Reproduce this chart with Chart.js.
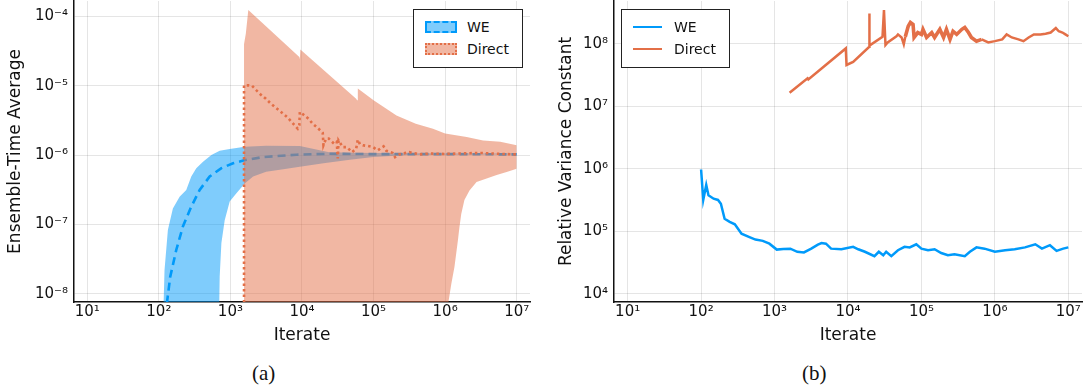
<!DOCTYPE html>
<html>
<head>
<meta charset="utf-8">
<script src="https://cdn.jsdelivr.net/npm/chart.js"></script>
<style>
  body { margin: 0; background: #fff; }
  #page { position: relative; width: 1083px; height: 392px; overflow: hidden; font-family: "DejaVu Sans", sans-serif; color: #111; }
  .panel { position: absolute; top: 0; }
  .legend { position: absolute; box-sizing: border-box; border: 1.5px solid #222; background: #fff; }
  .legend .lab { position: absolute; font-size: 14px; line-height: 16px; }
  .legend .sw { position: absolute; box-sizing: border-box; }
  .legend .ln { position: absolute; height: 0; border-top: 2.3px solid; }
  .cap { position: absolute; font-family: "Liberation Serif", serif; font-size: 21px; top: 361px; }
</style>
</head>
<body>
<div id="page">
  <div class="panel" style="left:0;width:540px;height:350px"><canvas id="chartA" width="540" height="350"></canvas></div>
  <div class="panel" style="left:540px;width:543px;height:350px"><canvas id="chartB" width="543" height="350"></canvas></div>

  <div class="legend" style="left:413px;top:9px;width:110px;height:59px">
    <div class="sw" style="left:11px;top:11px;width:32px;height:12px;background:rgba(0,154,250,0.5);border:2.5px dashed #009AFA"></div>
    <div class="lab" style="left:53px;top:9px">WE</div>
    <div class="sw" style="left:11px;top:33px;width:32px;height:12px;background:rgba(227,111,71,0.5);border:2.5px dotted #E36F47"></div>
    <div class="lab" style="left:53px;top:31px">Direct</div>
  </div>
  <div class="legend" style="left:621px;top:9px;width:109px;height:59px">
    <div class="ln" style="left:11px;top:16px;width:29px;border-color:#009AFA"></div>
    <div class="lab" style="left:52px;top:9px">WE</div>
    <div class="ln" style="left:11px;top:38px;width:29px;border-color:#E36F47"></div>
    <div class="lab" style="left:52px;top:31px">Direct</div>
  </div>

  <div class="cap" style="left:252px">(a)</div>
  <div class="cap" style="left:802px">(b)</div>
</div>

<script>
// ---- (a) ensemble-time average ----
var weMeanX = [129.4, 144.2, 175, 216.8, 283.8, 371.5, 512.9, 748, 1089, 1549, 2818, 8318, 2.4e4, 1e5, 1e6, 1e7];
var weMeanY = [7.24e-9, 1.76e-8, 4.27e-8, 9.33e-8, 1.80e-7, 3.13e-7, 4.90e-7, 6.46e-7, 7.59e-7, 8.38e-7, 9.33e-7, 1.01e-6, 1.04e-6, 1.03e-6, 1.03e-6, 1.02e-6];

var weUpperX = [113.8, 120, 133.7, 157, 195, 241.5, 283.8, 333.4, 414, 542, 708, 977, 1585, 3162, 9333, 2.4e4, 1e5, 1e6, 1e7];
var weUpperY = [3e-9, 2.19e-8, 8.32e-8, 1.70e-7, 2.51e-7, 3.13e-7, 4.90e-7, 6.46e-7, 8.02e-7, 1.0e-6, 1.15e-6, 1.22e-6, 1.32e-6, 1.36e-6, 1.35e-6, 1.10e-6, 1.07e-6, 1.05e-6, 1.05e-6];

var weLowerX = [113.8, 676, 708, 748, 832, 977, 1213, 1585, 2075, 3162, 5495, 9333, 2.0e4, 4.68e4, 1e5, 3.16e5, 1e6, 1e7];
var weLowerY = [1e-10, 1e-9, 1.76e-8, 5.37e-8, 1.15e-7, 2.14e-7, 2.82e-7, 3.89e-7, 4.90e-7, 5.75e-7, 6.21e-7, 6.76e-7, 7.59e-7, 8.51e-7, 9.33e-7, 1.0e-6, 1.01e-6, 1.02e-6];

var directMeanX = [1549, 1549, 1820, 1995, 2265, 2661, 3126, 3673, 4786, 6310, 7413, 8710, 9183, 9333, 1.023e4, 1.23e4, 1.413e4, 1.66e4, 1.95e4, 1.995e4,
  2.17e4, 2.37e4, 2.82e4, 3.06e4, 3.16e4, 3.24e4, 3.72e4, 4.23e4, 5.01e4, 5.71e4, 6.03e4, 6.46e4, 7.08e4, 8.32e4, 9.77e4, 1.15e5, 1.38e5, 1.51e5, 1.86e5, 2.0e5,
  2.29e5, 3.16e5, 4.37e5, 6.17e5, 1e6, 2.0e6, 3.16e6, 6.31e6, 1e7];
var directMeanY = [1e-9, 1.01e-5, 1.01e-5, 1.0e-5, 8.71e-6, 7.41e-6, 6.46e-6, 5.50e-6, 4.41e-6, 3.47e-6, 2.88e-6, 2.40e-6, 2.69e-6, 4.17e-6, 3.89e-6, 3.34e-6, 2.82e-6, 2.45e-6, 2.09e-6, 1.38e-6,
  1.72e-6, 1.72e-6, 1.45e-6, 1.55e-6, 8.91e-7, 1.62e-6, 1.30e-6, 1.30e-6, 1.10e-6, 1.23e-6, 1.66e-6, 1.43e-6, 1.38e-6, 1.35e-6, 1.30e-6, 1.17e-6, 1.33e-6, 1.15e-6, 1.07e-6, 9.33e-7,
  1.02e-6, 1.10e-6, 1.02e-6, 1.05e-6, 1.035e-6, 1.06e-6, 1.07e-6, 1.035e-6, 1.02e-6];

var directUpperX = [1549, 1641, 1778, 9183, 9333, 9484, 5.71e4, 5.89e4, 6.03e4, 1e5, 2.09e5, 3.89e5, 6.76e5, 1e6, 2.0e6, 3.39e6, 5.89e6, 1e7];
var directUpperY = [3.98e-5, 5.62e-5, 1.23e-4, 2.59e-5, 2.40e-5, 3.31e-5, 6.46e-6, 6.17e-6, 9.12e-6, 6.17e-6, 3.72e-6, 2.82e-6, 2.40e-6, 2.04e-6, 1.82e-6, 1.62e-6, 1.55e-6, 1.38e-6];

var directLowerX = [1549, 1.096e6, 1.12e6, 1.22e6, 1.35e6, 1.51e6, 1.585e6, 1.68e6, 1.86e6, 2.19e6, 2.75e6, 3.80e6, 5.25e6, 7.24e6, 1e7];
var directLowerY = [1e-10, 1e-10, 7.94e-9, 1.38e-8, 2.43e-8, 5.89e-8, 9.12e-8, 1.41e-7, 2.24e-7, 3.09e-7, 4.07e-7, 4.57e-7, 5.13e-7, 5.69e-7, 6.35e-7];

// ---- (b) relative variance constant ----
var rvWeX = [100, 107, 117.5, 126, 148, 170, 186, 209, 245, 288, 355, 447, 550, 692, 851, 1072, 1318, 1641, 2042, 2512,
  3162, 3890, 4365, 5012, 5888, 8128, 1.175e4, 1.38e4, 1.70e4, 2.29e4, 2.63e4, 3.02e4, 3.31e4, 3.89e4, 4.79e4, 5.89e4, 6.92e4, 8.51e4, 1e5, 1.23e5,
  1.51e5, 1.86e5, 2.29e5, 2.82e5, 3.89e5, 4.57e5, 5.62e5, 7.24e5, 1e6, 1.38e6, 1.86e6, 2.57e6, 3.55e6, 4.37e6, 5.62e6, 6.92e6, 8.51e6, 1e7];
var rvWeY = [9.7e5, 3.16e5, 5.5e5, 3.76e5, 3.31e5, 3.16e5, 2.75e5, 1.58e5, 1.41e5, 1.29e5, 9.12e4, 8.13e4, 7.33e4, 7.0e4, 6.31e4, 5.07e4, 5.19e4, 5.25e4, 4.68e4, 4.57e4,
  5.25e4, 6.10e4, 6.46e4, 6.31e4, 5.25e4, 5.13e4, 5.62e4, 5.13e4, 4.68e4, 3.98e4, 4.68e4, 4.12e4, 4.68e4, 3.98e4, 4.95e4, 5.62e4, 5.50e4, 6.17e4, 5.25e4, 4.95e4,
  5.13e4, 4.47e4, 4.12e4, 4.27e4, 3.98e4, 4.68e4, 5.50e4, 5.25e4, 4.68e4, 4.95e4, 5.13e4, 5.50e4, 6.17e4, 5.25e4, 5.96e4, 4.84e4, 5.25e4, 5.50e4];

var rvDirectX = [1603, 2818, 2884, 9333, 9550, 1.175e4, 1.95e4, 1.95e4, 1.97e4, 2.95e4, 3.09e4, 3.24e4, 3.47e4, 4.57e4, 4.79e4, 5.37e4, 5.75e4, 6.03e4, 6.61e4, 7.08e4,
  7.69e4, 7.94e4, 8.91e4, 1e5, 1.05e5, 1.175e5, 1.38e5, 1.51e5, 1.78e5, 2.0e5, 2.19e5, 2.45e5, 2.69e5, 3.02e5, 3.55e5, 3.89e5, 4.37e5, 4.79e5, 5.62e5, 6.61e5,
  8.13e5, 1e6, 1.26e6, 1.445e6, 1.70e6, 2.09e6, 2.45e6, 2.88e6, 3.39e6, 4.17e6, 4.90e6, 5.75e6, 6.76e6, 7.41e6, 8.32e6, 9.12e6, 1e7];
var rvDirectY = [1.64e7, 2.79e7, 2.69e7, 8.41e7, 4.57e7, 5.13e7, 8.91e7, 3.06e8, 9.33e7, 1.29e8, 3.47e8, 9.55e7, 1.05e8, 1.32e8, 1.41e8, 1.26e8, 9.77e7, 1.29e8, 1.91e8, 2.19e8,
  2.04e8, 1.26e8, 1.51e8, 1.41e8, 1.70e8, 1.26e8, 1.51e8, 1.26e8, 1.70e8, 1.26e8, 1.70e8, 1.175e8, 1.585e8, 1.41e8, 1.70e8, 1.82e8, 1.51e8, 1.26e8, 1.10e8, 1.175e8,
  1.05e8, 1.10e8, 1.175e8, 1.41e8, 1.26e8, 1.175e8, 1.10e8, 1.26e8, 1.41e8, 1.41e8, 1.445e8, 1.51e8, 1.78e8, 1.585e8, 1.51e8, 1.41e8, 1.32e8];

// tick positions (decades)
var xTicks = [1e1, 1e2, 1e3, 1e4, 1e5, 1e6, 1e7];
var yTicksA = [1e-8, 1e-7, 1e-6, 1e-5, 1e-4];
var yTicksB = [1e4, 1e5, 1e6, 1e7, 1e8];

var BLUE = '#009AFA', ORANGE = '#E36F47';
var SUP = {'-': '\u207B', '0': '\u2070', '1': '\u00B9', '2': '\u00B2', '3': '\u00B3', '4': '\u2074', '5': '\u2075', '6': '\u2076', '7': '\u2077', '8': '\u2078', '9': '\u2079'};

function pts(xs, ys) {
    return xs.map(function(x, i) { return {x: x, y: ys[i]}; });
}

function powLabel(v) {
    var e = String(Math.round(Math.log10(v)));
    return '10' + e.split('').map(function(c) { return SUP[c]; }).join('');
}

function logAxis(min, max, ticks, title, size, titlePad) {
    return {
        type: 'logarithmic',
        min: min,
        max: max,
        bounds: 'data',
        afterBuildTicks: function(axis) {
            axis.ticks = ticks.map(function(v) { return {value: v}; });
        },
        afterFit: function(axis) {
            // fixed box size, no extra label padding so the plot area is exact
            if (axis.isHorizontal()) {
                axis.height = size;
                axis.paddingLeft = 0;
                axis.paddingRight = 0;
            } else {
                axis.width = size;
                axis.paddingTop = 0;
                axis.paddingBottom = 0;
            }
        },
        ticks: {
            callback: powLabel,
            autoSkip: false,
            maxRotation: 0,
            padding: 1,
            color: '#111',
            font: {family: 'DejaVu Sans', size: 15}
        },
        grid: {color: 'rgba(0,0,0,0.1)', lineWidth: 1, drawTicks: false},
        border: {display: true, color: '#111', width: 1.5},
        title: {display: true, text: title, color: '#111', padding: titlePad, font: {family: 'DejaVu Sans', size: 17}}
    };
}

var common = {
    responsive: false,
    animation: false,
    devicePixelRatio: 1,
    events: [],
    elements: {point: {radius: 0}, line: {tension: 0}},
    plugins: {legend: {display: false}, tooltip: {enabled: false}, filler: {drawTime: 'beforeDatasetDraw'}}
};

// panel (a)
var yA = logAxis(7.6e-9, 1.66e-4, yTicksA, 'Ensemble-Time Average', 74, {top: 5, bottom: 0});
yA.ticks.padding = 6;
new Chart(document.getElementById('chartA'), {
    type: 'line',
    data: {
        datasets: [
            {label: 'WE lower', data: pts(weLowerX, weLowerY), borderColor: 'transparent', borderWidth: 0, fill: false, order: 6},
            {label: 'WE', data: pts(weUpperX, weUpperY), borderColor: 'transparent', borderWidth: 0, backgroundColor: 'rgba(0,154,250,0.5)', fill: 0, order: 5},
            {label: 'WE mean', data: pts(weMeanX, weMeanY), borderColor: BLUE, borderWidth: 2.6, borderDash: [8, 5], fill: false, order: 4},
            {label: 'Direct lower', data: pts(directLowerX, directLowerY), borderColor: 'transparent', borderWidth: 0, fill: false, order: 3},
            {label: 'Direct', data: pts(directUpperX, directUpperY), borderColor: 'transparent', borderWidth: 0, backgroundColor: 'rgba(227,111,71,0.5)', fill: 3, order: 2},
            {label: 'Direct mean', data: pts(directMeanX, directMeanY), borderColor: ORANGE, borderWidth: 2.6, borderDash: [2.5, 3], fill: false, order: 1}
        ]
    },
    options: Object.assign({}, common, {
        layout: {padding: {top: 1, right: 10, left: 0, bottom: 0}},
        scales: {
            x: logAxis(6.52, 1.535e7, xTicks, 'Iterate', 48, {top: 0, bottom: 4}),
            y: yA
        }
    })
});

// panel (b)
var yB = logAxis(7.35e3, 4.83e8, yTicksB, 'Relative Variance Constant', 74, {top: 16, bottom: 0});
yB.ticks.padding = 6;
new Chart(document.getElementById('chartB'), {
    type: 'line',
    data: {
        datasets: [
            {label: 'WE', data: pts(rvWeX, rvWeY), borderColor: BLUE, borderWidth: 2.5, fill: false},
            {label: 'Direct', data: pts(rvDirectX, rvDirectY), borderColor: ORANGE, borderWidth: 2.5, fill: false,
             segment: {borderWidth: function(ctx) { return ctx.p0.parsed.x > 6e4 && ctx.p0.parsed.x < 6e5 ? 3.6 : 2.5; }}}
        ]
    },
    options: Object.assign({}, common, {
        layout: {padding: {top: 1, right: 1, left: 0, bottom: 0}},
        scales: {
            x: logAxis(6.52, 1.535e7, xTicks, 'Iterate', 48, {top: 0, bottom: 4}),
            y: yB
        }
    })
});
</script>
</body>
</html>
